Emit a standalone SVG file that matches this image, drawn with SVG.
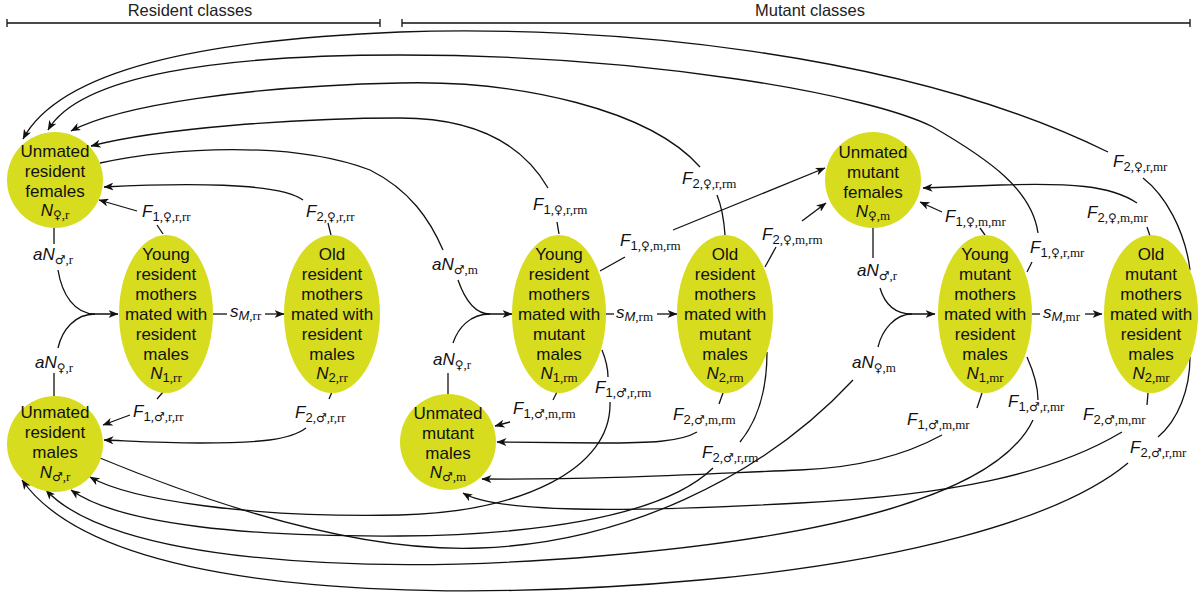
<svg xmlns="http://www.w3.org/2000/svg" width="1203" height="599" viewBox="0 0 1203 599">
<defs>
<style>
.nd{fill:#d7dc1f;stroke:none}
.nt{font-family:"Liberation Sans",Arial,sans-serif;font-size:17px;fill:#111;text-anchor:middle}
.lb{font-family:"Liberation Sans",Arial,sans-serif;font-size:17px;font-style:italic;fill:#111}
.sb{font-size:13px;font-style:normal}
.sm{font-size:13px;font-style:italic}
.sr{font-family:"Liberation Serif","DejaVu Serif",serif;font-size:13px;font-style:normal}
.sy{font-family:"DejaVu Sans",sans-serif;font-size:12px;font-style:normal}
.hd{font-family:"Liberation Sans",Arial,sans-serif;font-size:16.5px;fill:#222;text-anchor:middle}
.e{fill:none;stroke:#111;stroke-width:1.3}
.a{fill:none;stroke:#111;stroke-width:1.3;marker-end:url(#ah)}
</style>
<marker id="ah" viewBox="0 0 10 8" refX="9.5" refY="4" markerWidth="10" markerHeight="8" orient="auto" markerUnits="userSpaceOnUse">
<path d="M0,0 L10,4 L0,8 L2.8,4 z" fill="#111"/>
</marker>
</defs>
<rect width="1203" height="599" fill="#fff"/>

<g id="headers">
<text class="hd" x="190" y="16">Resident classes</text>
<path class="e" d="M7,23 H380 M7,19 V27 M380,19 V27"/>
<text class="hd" x="810" y="16">Mutant classes</text>
<path class="e" d="M402,23 H1190 M402,19 V27 M1190,19 V27"/>
</g>

<g id="connectors">
<path class="e" d="M1190,270 C1185,230 1165,195 1143,178"/>
<path class="a" d="M1108,152 C900,50 600,25 400,32 C200,40 60,70 23,139"/>
<path class="e" d="M1027,272 L1032,262"/>
<path class="a" d="M1038,233 C1032,190 990,160 933,127 C870,95 650,55 400,55 C220,55 80,75 48,130"/>
<path class="e" d="M725,235 C724,220 721,205 717,195"/>
<path class="a" d="M700,167 C650,110 520,80 400,83 C250,86 120,105 71,131"/>
<path class="e" d="M559,234 L557,222"/>
<path class="a" d="M548,188 C520,140 470,118 400,118 C300,118 160,128 91,146"/>
<path class="e" d="M331,235 L328,223"/>
<path class="a" d="M303,200 C280,182 180,183 104,187"/>
<path class="e" d="M163,234 L157,225"/>
<path class="a" d="M137,211 L99,200"/>
<path class="e" d="M54,228 L54,244"/>
<path class="a" d="M58,270 C62,295 75,314 95,314 L118,314"/>
<path class="e" d="M58,348 C62,330 75,314 95,314"/>
<path class="e" d="M54,373 L54,396"/>
<path class="e" d="M213,314 L227,314"/>
<path class="a" d="M265,314 L284,314"/>
<path class="e" d="M163,392 L157,399"/>
<path class="a" d="M130,415 L103,425"/>
<path class="e" d="M332,392 L329,399"/>
<path class="a" d="M306,428 C290,440 260,443 200,443 C160,443 130,441 104,440"/>
<path class="e" d="M602,350 C606,360 608,368 608,377"/>
<path class="a" d="M610,402 C612,470 520,512 400,515 C250,518 130,500 90,477"/>
<path class="e" d="M767,352 C767,390 758,420 740,442"/>
<path class="a" d="M713,468 C660,520 520,535 400,536 C250,537 120,525 71,490"/>
<path class="e" d="M1027,357 C1035,375 1038,390 1038,400"/>
<path class="a" d="M1033,420 C1000,490 850,535 600,556 C350,577 110,560 46,490"/>
<path class="e" d="M1190,357 C1190,390 1178,420 1158,437"/>
<path class="a" d="M1128,463 C1060,520 900,562 700,580 C480,600 110,605 22,480"/>
<path class="e" d="M100,163 C170,148 290,140 370,170 C410,190 430,220 443,250"/>
<path class="a" d="M458,280 C465,300 475,314 490,314 L512,314"/>
<path class="e" d="M453,343 C458,328 470,314 490,314"/>
<path class="e" d="M448,373 L448,394"/>
<path class="e" d="M606,314 L614,314"/>
<path class="a" d="M657,314 L677,314"/>
<path class="e" d="M557,392 L553,400"/>
<path class="a" d="M510,422 L495,426"/>
<path class="e" d="M723,393 L719,404"/>
<path class="a" d="M697,432 C680,442 650,443 600,443 L497,442"/>
<path class="e" d="M982,393 L977,408"/>
<path class="a" d="M942,435 C900,458 850,468 800,470 C700,474 600,480 482,479"/>
<path class="e" d="M1148,393 L1147,405"/>
<path class="a" d="M1122,432 C1050,475 950,495 800,503 C650,511 500,515 463,493"/>
<path class="e" d="M600,271 L625,257"/>
<path class="a" d="M673,230 L825,168"/>
<path class="e" d="M765,267 L776,247"/>
<path class="a" d="M802,221 L826,203"/>
<path class="e" d="M985,235 L980,228"/>
<path class="a" d="M942,212 L920,202"/>
<path class="e" d="M1150,236 L1147,227"/>
<path class="a" d="M1137,203 C1110,185 1070,183 1000,185 L923,188"/>
<path class="e" d="M873,228 L873,258"/>
<path class="a" d="M880,288 C885,305 895,314 912,314 L935,314"/>
<path class="e" d="M878,347 C882,330 895,314 912,314"/>
<path class="e" d="M100,458 C250,520 380,552 480,548 C620,543 760,480 853,380"/>
<path class="e" d="M1032,314 L1040,314"/>
<path class="a" d="M1085,314 L1102,314"/>
</g>

<g id="urf">
<circle class="nd" cx="55" cy="180" r="48"/>
<text class="nt" x="55" y="157">Unmated</text>
<text class="nt" x="55" y="177">resident</text>
<text class="nt" x="55" y="197">females</text>
<text class="nt" x="55" y="216"><tspan font-style="italic">N</tspan><tspan class="sy" dy="3">♀</tspan><tspan class="sr">,r</tspan></text>
</g>
<g id="urm">
<circle class="nd" cx="55" cy="444" r="48"/>
<text class="nt" x="55" y="418">Unmated</text>
<text class="nt" x="55" y="438">resident</text>
<text class="nt" x="55" y="458">males</text>
<text class="nt" x="55" y="478"><tspan font-style="italic">N</tspan><tspan class="sy" dy="3">♂</tspan><tspan class="sr">,r</tspan></text>
</g>
<g id="umm">
<circle class="nd" cx="448" cy="442" r="48"/>
<text class="nt" x="448" y="419">Unmated</text>
<text class="nt" x="448" y="439">mutant</text>
<text class="nt" x="448" y="459">males</text>
<text class="nt" x="448" y="478"><tspan font-style="italic">N</tspan><tspan class="sy" dy="3">♂</tspan><tspan class="sr">,m</tspan></text>
</g>
<g id="umf">
<circle class="nd" cx="873" cy="180" r="48"/>
<text class="nt" x="873" y="158">Unmated</text>
<text class="nt" x="873" y="178">mutant</text>
<text class="nt" x="873" y="198">females</text>
<text class="nt" x="873" y="217"><tspan font-style="italic">N</tspan><tspan class="sy" dy="3">♀</tspan><tspan class="sr">,m</tspan></text>
</g>
<g id="yrr">
<ellipse class="nd" cx="166" cy="314" rx="47" ry="79"/>
<text class="nt" x="166" y="260">Young</text>
<text class="nt" x="166" y="280">resident</text>
<text class="nt" x="166" y="300">mothers</text>
<text class="nt" x="166" y="320">mated with</text>
<text class="nt" x="166" y="340">resident</text>
<text class="nt" x="166" y="360">males</text>
<text class="nt" x="166" y="379"><tspan font-style="italic">N</tspan><tspan class="sb" dy="3">1</tspan><tspan class="sr">,rr</tspan></text>
</g>
<g id="orr">
<ellipse class="nd" cx="332" cy="314" rx="48" ry="79"/>
<text class="nt" x="332" y="260">Old</text>
<text class="nt" x="332" y="280">resident</text>
<text class="nt" x="332" y="300">mothers</text>
<text class="nt" x="332" y="320">mated with</text>
<text class="nt" x="332" y="340">resident</text>
<text class="nt" x="332" y="360">males</text>
<text class="nt" x="332" y="379"><tspan font-style="italic">N</tspan><tspan class="sb" dy="3">2</tspan><tspan class="sr">,rr</tspan></text>
</g>
<g id="yrm">
<ellipse class="nd" cx="559" cy="314" rx="47" ry="79"/>
<text class="nt" x="559" y="260">Young</text>
<text class="nt" x="559" y="280">resident</text>
<text class="nt" x="559" y="300">mothers</text>
<text class="nt" x="559" y="320">mated with</text>
<text class="nt" x="559" y="340">mutant</text>
<text class="nt" x="559" y="360">males</text>
<text class="nt" x="559" y="379"><tspan font-style="italic">N</tspan><tspan class="sb" dy="3">1</tspan><tspan class="sr">,rm</tspan></text>
</g>
<g id="orm">
<ellipse class="nd" cx="725" cy="314" rx="48" ry="79"/>
<text class="nt" x="725" y="260">Old</text>
<text class="nt" x="725" y="280">resident</text>
<text class="nt" x="725" y="300">mothers</text>
<text class="nt" x="725" y="320">mated with</text>
<text class="nt" x="725" y="340">mutant</text>
<text class="nt" x="725" y="360">males</text>
<text class="nt" x="725" y="379"><tspan font-style="italic">N</tspan><tspan class="sb" dy="3">2</tspan><tspan class="sr">,rm</tspan></text>
</g>
<g id="ymr">
<ellipse class="nd" cx="985" cy="314" rx="47" ry="79"/>
<text class="nt" x="985" y="260">Young</text>
<text class="nt" x="985" y="280">mutant</text>
<text class="nt" x="985" y="300">mothers</text>
<text class="nt" x="985" y="320">mated with</text>
<text class="nt" x="985" y="340">resident</text>
<text class="nt" x="985" y="360">males</text>
<text class="nt" x="985" y="379"><tspan font-style="italic">N</tspan><tspan class="sb" dy="3">1</tspan><tspan class="sr">,mr</tspan></text>
</g>
<g id="omr">
<ellipse class="nd" cx="1151" cy="314" rx="47" ry="79"/>
<text class="nt" x="1151" y="260">Old</text>
<text class="nt" x="1151" y="280">mutant</text>
<text class="nt" x="1151" y="300">mothers</text>
<text class="nt" x="1151" y="320">mated with</text>
<text class="nt" x="1151" y="340">resident</text>
<text class="nt" x="1151" y="360">males</text>
<text class="nt" x="1151" y="379"><tspan font-style="italic">N</tspan><tspan class="sb" dy="3">2</tspan><tspan class="sr">,mr</tspan></text>
</g>

<g id="labels">
<text class="lb" x="142" y="217">F<tspan class="sb" dy="4">1</tspan><tspan class="sr">,</tspan><tspan class="sy">♀</tspan><tspan class="sr">,r,rr</tspan></text>
<text class="lb" x="306" y="217">F<tspan class="sb" dy="4">2</tspan><tspan class="sr">,</tspan><tspan class="sy">♀</tspan><tspan class="sr">,r,rr</tspan></text>
<text class="lb" x="533" y="210">F<tspan class="sb" dy="4">1</tspan><tspan class="sr">,</tspan><tspan class="sy">♀</tspan><tspan class="sr">,r,rm</tspan></text>
<text class="lb" x="682" y="184">F<tspan class="sb" dy="4">2</tspan><tspan class="sr">,</tspan><tspan class="sy">♀</tspan><tspan class="sr">,r,rm</tspan></text>
<text class="lb" x="620" y="246">F<tspan class="sb" dy="4">1</tspan><tspan class="sr">,</tspan><tspan class="sy">♀</tspan><tspan class="sr">,m,rm</tspan></text>
<text class="lb" x="762" y="240">F<tspan class="sb" dy="4">2</tspan><tspan class="sr">,</tspan><tspan class="sy">♀</tspan><tspan class="sr">,m,rm</tspan></text>
<text class="lb" x="945" y="222">F<tspan class="sb" dy="4">1</tspan><tspan class="sr">,</tspan><tspan class="sy">♀</tspan><tspan class="sr">,m,mr</tspan></text>
<text class="lb" x="1030" y="253">F<tspan class="sb" dy="4">1</tspan><tspan class="sr">,</tspan><tspan class="sy">♀</tspan><tspan class="sr">,r,mr</tspan></text>
<text class="lb" x="1087" y="218">F<tspan class="sb" dy="4">2</tspan><tspan class="sr">,</tspan><tspan class="sy">♀</tspan><tspan class="sr">,m,mr</tspan></text>
<text class="lb" x="1113" y="167">F<tspan class="sb" dy="4">2</tspan><tspan class="sr">,</tspan><tspan class="sy">♀</tspan><tspan class="sr">,r,mr</tspan></text>

<text class="lb" x="33" y="260">aN<tspan class="sy" dy="4">♂</tspan><tspan class="sr">,r</tspan></text>
<text class="lb" x="35" y="368">aN<tspan class="sy" dy="4">♀</tspan><tspan class="sr">,r</tspan></text>
<text class="lb" x="432" y="270">aN<tspan class="sy" dy="4">♂</tspan><tspan class="sr">,m</tspan></text>
<text class="lb" x="433" y="365">aN<tspan class="sy" dy="4">♀</tspan><tspan class="sr">,r</tspan></text>
<text class="lb" x="857" y="276">aN<tspan class="sy" dy="4">♂</tspan><tspan class="sr">,r</tspan></text>
<text class="lb" x="852" y="368">aN<tspan class="sy" dy="4">♀</tspan><tspan class="sr">,m</tspan></text>

<text class="lb" x="230" y="317">s<tspan class="sm" dy="3">M</tspan><tspan class="sr">,rr</tspan></text>
<text class="lb" x="616" y="318">s<tspan class="sm" dy="3">M</tspan><tspan class="sr">,rm</tspan></text>
<text class="lb" x="1043" y="318">s<tspan class="sm" dy="3">M</tspan><tspan class="sr">,mr</tspan></text>

<text class="lb" x="133" y="417">F<tspan class="sb" dy="4">1</tspan><tspan class="sr">,</tspan><tspan class="sy">♂</tspan><tspan class="sr">,r,rr</tspan></text>
<text class="lb" x="295" y="418">F<tspan class="sb" dy="4">2</tspan><tspan class="sr">,</tspan><tspan class="sy">♂</tspan><tspan class="sr">,r,rr</tspan></text>
<text class="lb" x="513" y="414">F<tspan class="sb" dy="4">1</tspan><tspan class="sr">,</tspan><tspan class="sy">♂</tspan><tspan class="sr">,m,rm</tspan></text>
<text class="lb" x="595" y="393">F<tspan class="sb" dy="4">1</tspan><tspan class="sr">,</tspan><tspan class="sy">♂</tspan><tspan class="sr">,r,rm</tspan></text>
<text class="lb" x="673" y="420">F<tspan class="sb" dy="4">2</tspan><tspan class="sr">,</tspan><tspan class="sy">♂</tspan><tspan class="sr">,m,rm</tspan></text>
<text class="lb" x="702" y="458">F<tspan class="sb" dy="4">2</tspan><tspan class="sr">,</tspan><tspan class="sy">♂</tspan><tspan class="sr">,r,rm</tspan></text>
<text class="lb" x="907" y="425">F<tspan class="sb" dy="4">1</tspan><tspan class="sr">,</tspan><tspan class="sy">♂</tspan><tspan class="sr">,m,mr</tspan></text>
<text class="lb" x="1008" y="407">F<tspan class="sb" dy="4">1</tspan><tspan class="sr">,</tspan><tspan class="sy">♂</tspan><tspan class="sr">,r,mr</tspan></text>
<text class="lb" x="1083" y="420">F<tspan class="sb" dy="4">2</tspan><tspan class="sr">,</tspan><tspan class="sy">♂</tspan><tspan class="sr">,m,mr</tspan></text>
<text class="lb" x="1130" y="453">F<tspan class="sb" dy="4">2</tspan><tspan class="sr">,</tspan><tspan class="sy">♂</tspan><tspan class="sr">,r,mr</tspan></text>
</g>
</svg>
